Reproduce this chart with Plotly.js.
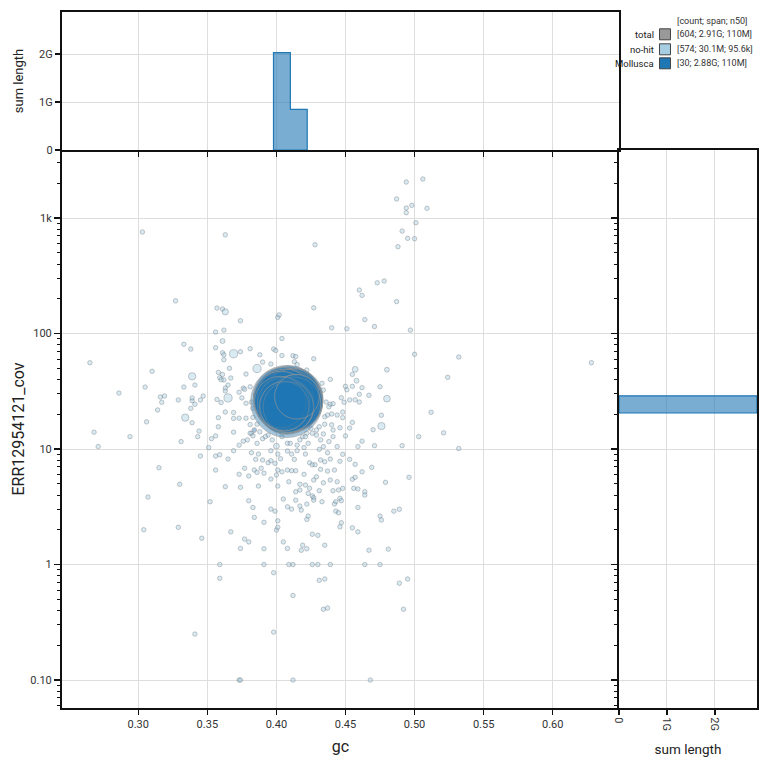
<!DOCTYPE html>
<html><head><meta charset="utf-8">
<script src="https://cdn.plot.ly/plotly-3.0.1.min.js"></script>
<style>html,body{margin:0;padding:0;background:#fff}#chart{width:770px;height:770px}</style>
</head><body><div id="chart"></div>
<script>
// ---------------- data ----------------
const nohitGc = [
0.303,0.363,0.428,0.327,0.357,0.361,0.363,0.374,0.401,0.402,0.427,
0.494,0.506,0.487,0.498,0.494,0.509,0.494,0.501,0.491,0.495,0.500,0.488,
0.473,0.478,0.460,0.462,0.487,0.464,0.471,0.497,0.451,0.440,
0.356,0.362,0.361,0.404,0.333,0.338,0.356,0.361,0.369,0.362,0.362,0.374,0.381,0.388,0.390,0.398,0.3995,
0.404,0.412,0.414,0.413,0.415,0.427,0.386,0.500,0.532,0.628,0.422,0.396,0.366,0.265,0.310,
0.305,0.339,0.333,0.341,0.358,0.361,0.359,0.362,0.367,0.378,0.363,0.365,0.365,0.357,0.360,0.363,0.358,
0.369,0.369,0.375,0.376,0.377,0.381,0.385,0.378,0.382,0.383,0.383,0.381,0.386,0.382,
0.347,0.345,0.339,0.338,0.341,0.339,0.329,0.316,0.319,0.317,0.314,0.334,0.339,0.306,0.286,0.268,0.271,0.294,
0.331,0.344,0.343,0.353,0.356,0.358,0.351,0.369,0.373,0.376,0.379,0.386,0.390,0.394,0.381,0.388,
0.360,0.373,0.378,0.363,0.373,
0.439,0.458,0.450,0.455,0.462,0.475,0.433,0.451,0.460,0.467,0.434,0.447,0.449,0.453,0.460,0.457,0.480,
0.436,0.439,0.441,0.438,0.435,0.440,0.444,0.448,0.448,0.476,0.455,0.476,0.470,0.453,0.446,0.440,0.435,
0.431,0.429,0.425,0.441,0.434,0.450,0.441,0.422,0.419,0.457,0.455,0.480,0.524,0.512,0.521,0.503,0.437,
0.392,0.397,0.400,0.404,0.408,0.410,0.415,0.417,0.421,0.423,0.426,0.429,0.432,0.434,0.438,0.444,0.462,0.471,0.491,0.383,
0.345,0.356,0.359,0.369,0.365,0.382,0.385,0.387,0.390,0.394,0.396,0.396,0.401,0.399,0.403,0.408,0.411,0.413,0.415,
0.420,0.421,0.424,0.426,0.428,0.431,0.432,0.435,0.437,0.439,0.446,0.448,0.453,0.457,0.459,0.469,
0.356,0.363,0.373,0.377,0.380,0.384,0.386,0.389,0.391,0.396,0.400,0.401,0.404,0.408,0.409,0.411,0.414,0.417,
0.420,0.421,0.424,0.427,0.429,0.432,0.434,0.437,0.439,0.442,0.444,0.445,0.448,0.455,0.457,0.462,0.479,0.496,
0.374,0.387,0.401,0.414,0.417,0.423,0.426,0.427,0.431,0.441,0.456,0.459,0.464,0.464,
0.352,0.380,0.383,0.396,0.399,0.405,0.408,0.411,0.414,0.417,0.422,0.418,0.427,0.433,0.443,0.446,0.447,0.442,
0.459,0.443,0.445,0.485,0.489,0.384,0.391,0.401,0.422,0.423,0.447,0.446,0.455,0.459,0.475,0.476,
0.346,0.367,0.377,0.400,0.401,0.426,0.430,
0.315,0.330,0.307,0.304,0.329,0.374,0.380,0.391,0.398,0.398,0.405,0.408,0.412,0.419,0.418,0.422,0.435,
0.431,0.435,0.434,0.437,0.467,0.481,0.532,
0.359,0.391,0.409,0.412,0.426,0.430,0.439,0.464,0.475,
0.359,0.489,0.495,0.492,0.341,
0.373,0.374,0.412,0.468
];
const nohitCov = [
757,716,587,192,166,163,154,129,138,145,167,
2050,2177,1462,1288,1221,1213,1112,910,771,667,662,565,
275,285,238,214,189,132,115,107,110,112,
103,107,86.1,90.5,80.6,73.4,75.4,68.2,66.8,65.5,59.3,69.6,73.9,65.5,56.6,73.4,71.3,
64.5,64.3,63.2,57.0,53.9,60.5,49.8,66.1,62.6,55.9,48.3,54.5,50.0,55.9,47.1,
34.4,42.6,34.4,35.8,46.1,44.2,41.4,39.6,41.2,44.6,33.7,35.8,27.7,26.9,25.3,20.9,18.7,
20.7,18.4,27.7,33.7,32.9,34.6,29.5,24.9,25.5,22.5,18.8,16.3,16.4,13.7,
28.8,26.6,26.2,22.5,24.4,27.7,26.6,28.2,28.8,25.4,21.8,18.7,16.9,17.2,30.5,14.0,10.5,12.8,
11.6,14.3,12.8,12.3,13.0,15.6,10.3,14.0,10.8,11.7,12.0,11.2,12.3,13.2,13.7,14.1,
39.8,18.5,18.5,31.8,31.0,
40.1,39.0,34.9,34.9,34.0,34.6,37.1,32.6,29.8,29.2,32.4,27.8,25.4,26.6,25.5,26.7,27.3,
25.5,24.4,24.7,23.2,19.0,20.1,19.7,20.9,18.7,19.6,17.0,15.8,14.7,15.2,15.3,16.2,16.4,
15.6,14.6,15.1,14.6,13.5,13.0,12.8,13.7,12.8,49.0,44.3,48.6,41.8,20.8,13.8,12.8,19.7,
12.8,12.0,10.6,12.8,11.2,11.2,10.8,12.0,12.8,11.2,13.7,13.2,12.0,10.5,11.6,10.5,11.7,10.7,10.7,13.0,
8.70,8.70,8.93,9.67,8.19,9.29,8.14,9.05,8.03,7.61,7.92,9.67,9.05,7.52,8.24,9.61,9.05,8.14,9.67,
10.3,9.05,7.61,7.31,7.31,9.94,8.03,7.76,9.29,8.19,7.83,9.00,8.14,7.37,10.5,6.94,
6.58,4.72,6.04,6.81,5.84,6.58,6.28,6.81,6.17,5.50,5.96,6.58,6.35,6.58,5.21,6.49,6.49,4.95,
6.04,4.88,4.57,5.39,5.75,6.67,5.10,6.45,5.39,6.58,5.21,4.42,4.57,5.47,5.69,6.35,5.15,5.69,
4.66,4.78,4.78,4.27,4.42,4.13,3.92,3.79,4.36,4.36,4.57,4.51,4.27,4.00,
3.50,3.57,3.12,3.02,2.90,3.69,3.16,3.02,3.61,3.21,3.34,2.96,3.61,3.50,3.50,3.74,3.57,3.34,
3.12,2.90,2.81,2.90,3.01,2.56,2.32,2.39,2.46,2.63,2.30,2.12,2.08,1.92,2.63,2.43,
1.69,1.92,1.66,1.99,2.10,1.83,1.79,
6.89,4.95,3.84,2.00,2.10,1.38,1.57,1.37,0.85,0.26,1.57,1.38,0.54,1.47,1.33,1.37,1.47,
0.73,0.75,0.41,0.42,1.33,1.36,10.1,
1,1,1,1,1,1,1,1,1,
0.76,0.69,0.75,0.41,0.25,
0.1,0.1,0.1,0.1
];
// contig lengths in kb
const nohitLenKb = [
45,45,45,45,45,45,120,45,45,45,45,
45,45,45,45,45,45,45,45,45,45,45,45,
45,45,45,45,45,45,45,45,45,45,
45,45,60,45,45,45,45,45,280,45,45,45,45,45,45,45,45,
45,45,45,45,45,45,280,45,45,45,45,45,45,45,45,
45,200,45,45,45,45,45,45,45,45,45,45,280,45,45,45,45,
45,45,45,45,45,45,45,45,45,45,45,45,45,45,
45,45,45,45,45,45,45,45,45,45,45,200,45,45,45,45,45,45,
45,45,45,45,45,45,45,45,45,45,45,45,45,45,45,45,
45,45,45,45,45,
45,60,45,45,45,45,45,45,45,45,45,45,45,45,45,45,150,
45,45,45,45,45,45,45,45,45,45,45,200,45,45,45,45,45,
45,45,45,45,45,45,45,45,45,100,45,60,45,45,45,45,45,
45,45,100,45,45,45,45,45,45,45,45,45,45,45,45,45,45,45,45,45,
45,45,45,45,45,45,45,45,45,45,45,45,45,45,45,45,45,45,45,
45,45,45,45,45,45,45,45,45,45,45,45,45,45,45,45,
45,45,45,45,45,45,45,45,45,45,45,45,45,45,45,45,45,45,
45,45,45,45,45,45,45,45,45,45,45,45,45,45,45,45,45,45,
45,45,45,45,45,45,45,45,45,45,45,45,45,45,
45,45,45,45,45,45,45,45,45,45,45,45,45,45,45,45,45,45,
45,45,45,45,45,45,45,45,45,45,45,45,45,45,45,45,
45,45,45,45,45,45,45,
45,45,45,45,45,45,45,45,45,45,45,45,45,45,45,45,45,
45,45,45,45,45,45,45,
45,45,45,45,45,45,45,45,45,
45,45,45,45,45,
45,45,45,45
];
const molluscaGc = [
0.4075,0.4086,0.4071,0.4093,0.4064,0.4078,0.4057,0.4096,0.4049,0.4089,
0.4071,0.4042,0.4095,0.4064,0.4035,0.4078,0.4053,0.4028,0.4086,0.4057,
0.4107,0.4114,0.4122,0.4111,0.4129,0.4118,0.4136,0.4125,0.4149,
0.384
];
const molluscaCov = [
25.8,26.6,27.7,28.5,25.5,24.5,27.1,26.0,28.2,25.0,
24.0,26.0,27.7,28.2,27.1,23.5,24.8,25.5,23.1,23.5,
27.1,26.0,27.7,25.0,26.6,28.2,25.5,24.5,28.4,
14.6
];
const molluscaLenMb = [
192,125,120,118,116,112,110,110,106,104,
100,98,94,90,88,78,74,70,66,62,
122,114,108,102,96,92,85,82,46,
0.05
];

const gcTickVals = [0.30,0.35,0.40,0.45,0.50,0.55,0.60];
const gcTickText = ['0.30','0.35','0.40','0.45','0.50','0.55','0.60'];
const covTickVals = [0.1,1,10,100,1000];
const covTickText = ['0.10','1','10','100','1k'];
const lenTickVals = [0,1e9,2e9];
const lenTickText = ['0','1G','2G'];

const legendTitle = '[count; span; n50]';
const legendNames = ['total','no-hit','Mollusca'];
const legendStats = ['[604; 2.91G; 110M]','[574; 30.1M; 95.6k]','[30; 2.88G; 110M]'];
const legendColors = ['#999999','#a6cee3','#1f77b4'];

// ---------------- helpers ----------------
const W = 770;
const px = v => v / W;            // x pixel -> paper
const py = v => 1 - v / W;        // y pixel -> paper
const GC_RANGE = [0.2448, 0.648];
const LOGCOV_RANGE = [-1.242, 3.589];
const LEN_MAX = 2.88e9;
const GC_BIN_START = 0.3979, GC_BIN_SIZE = 0.0122;
const LCOV_BIN_START = 1.312, LCOV_BIN_SIZE = 0.149;
const MIN_VISIBLE_SUM = 1e6;   // bins below this are zero-height at this scale

function markerSize(lenBp){ return 72 * Math.pow(lenBp / 192e6, 0.332); }

function binSums(vals, weights, start, size){
  const m = new Map();
  vals.forEach((v,i)=>{ const k = Math.floor((v-start)/size); m.set(k,(m.get(k)||0)+weights[i]); });
  return [...m.entries()].filter(e=>e[1]>=MIN_VISIBLE_SUM).sort((a,b)=>a[0]-b[0]);
}
function stepPoly(bins, start, size, toPos){
  const pos=[], val=[];
  let i=0;
  while(i<bins.length){
    let j=i;
    while(j+1<bins.length && bins[j+1][0]===bins[j][0]+1) j++;
    const e0 = start + bins[i][0]*size;
    pos.push(toPos(e0)); val.push(0);
    for(let k=i;k<=j;k++){
      const a = start+bins[k][0]*size, b = a+size;
      pos.push(toPos(a)); val.push(bins[k][1]);
      pos.push(toPos(b)); val.push(bins[k][1]);
    }
    pos.push(toPos(start+(bins[j][0]+1)*size)); val.push(0);
    pos.push(toPos(e0)); val.push(0);
    pos.push(null); val.push(null);
    i=j+1;
  }
  return {pos,val};
}

const molLenBp = molluscaLenMb.map(v=>v*1e6);
const order = molluscaLenMb.map((v,i)=>i).sort((a,b)=>molluscaLenMb[b]-molluscaLenMb[a]);

const gcBins = binSums(molluscaGc, molLenBp, GC_BIN_START, GC_BIN_SIZE);
const topPoly = stepPoly(gcBins, GC_BIN_START, GC_BIN_SIZE, e=>e);
const covBins = binSums(molluscaCov.map(v=>Math.log10(v)), molLenBp, LCOV_BIN_START, LCOV_BIN_SIZE);
const rightPoly = stepPoly(covBins, LCOV_BIN_START, LCOV_BIN_SIZE, e=>Math.pow(10,e));

const FONT = 'Roboto, "Open Sans", sans-serif';
const histFill = 'rgba(31,119,180,0.6)';

const traces = [
  { type:'scatter', mode:'markers', x:nohitGc, y:nohitCov, xaxis:'x', yaxis:'y',
    marker:{ size:nohitLenKb.map(v=>markerSize(v*1e3)), color:'rgba(166,206,227,0.6)',
             line:{color:'rgba(70,80,90,0.55)', width:0.8} }, hoverinfo:'skip' },
  { type:'scatter', mode:'markers', x:order.map(i=>molluscaGc[i]), y:order.map(i=>molluscaCov[i]),
    xaxis:'x', yaxis:'y',
    marker:{ size:order.map(i=>markerSize(molLenBp[i])), color:'rgba(31,119,180,0.6)',
             line:{color:'rgba(150,150,150,0.95)', width:1} }, hoverinfo:'skip' },
  { type:'scatter', mode:'lines', x:topPoly.pos, y:topPoly.val, xaxis:'x2', yaxis:'y2',
    fill:'toself', fillcolor:histFill, line:{color:'#1f77b4', width:1.2}, hoverinfo:'skip' },
  { type:'scatter', mode:'lines', x:rightPoly.val, y:rightPoly.pos, xaxis:'x3', yaxis:'y3',
    fill:'toself', fillcolor:histFill, line:{color:'#1f77b4', width:1.2}, hoverinfo:'skip' }
];

const minorCov = [];
for(let d=-2; d<=3; d++) for(let m=2; m<=9; m++) minorCov.push(m*Math.pow(10,d));

const axCommon = { showline:true, mirror:true, linecolor:'#111', linewidth:2, zeroline:false,
  gridcolor:'#dedede', gridwidth:1, tickfont:{size:11, color:'#333', family:FONT},
  ticks:'outside', tickcolor:'#111', tickwidth:1.5 };

const mainXDom = [px(62), px(619)];
const mainYDom = [py(708), py(150)];

const layout = {
  width:770, height:770, margin:{l:0,r:0,t:0,b:0}, showlegend:false,
  paper_bgcolor:'#fff', plot_bgcolor:'#fff', font:{family:FONT, color:'#222'},
  xaxis: Object.assign({}, axCommon, { domain:mainXDom, anchor:'y', range:GC_RANGE, mirror:false,
    tickmode:'array', tickvals:gcTickVals, ticktext:gcTickText, ticklen:5,
    title:{text:'gc', font:{size:16, color:'#222'}, standoff:11} }),
  yaxis: Object.assign({}, axCommon, { domain:mainYDom, anchor:'x', type:'log', range:LOGCOV_RANGE, mirror:false,
    tickmode:'array', tickvals:covTickVals, ticktext:covTickText, ticklen:6,
    minor:{tickmode:'array', tickvals:minorCov, ticks:'outside', ticklen:3, tickcolor:'#111', tickwidth:1, showgrid:false},
    title:{text:'ERR12954121_cov', font:{size:16, color:'#222'}, standoff:2} }),
  xaxis2: Object.assign({}, axCommon, { domain:mainXDom, anchor:'y2', range:GC_RANGE,
    tickmode:'array', tickvals:gcTickVals, showticklabels:false, ticklen:5 }),
  yaxis2: Object.assign({}, axCommon, { domain:[py(150), py(12)], anchor:'x2', range:[0, LEN_MAX],
    tickmode:'array', tickvals:lenTickVals, ticktext:lenTickText, ticklen:5,
    title:{text:'sum length', font:{size:13, color:'#222'}, standoff:13} }),
  xaxis3: Object.assign({}, axCommon, { domain:[px(619), px(757)], anchor:'y3', range:[0, LEN_MAX],
    tickmode:'array', tickvals:lenTickVals, ticktext:lenTickText, tickangle:90, ticklen:5,
    title:{text:'sum length', font:{size:13.5, color:'#222'}, standoff:15} }),
  yaxis3: Object.assign({}, axCommon, { domain:mainYDom, anchor:'x3', type:'log', range:LOGCOV_RANGE,
    tickmode:'array', tickvals:covTickVals, showticklabels:false, ticklen:6,
    minor:{tickmode:'array', tickvals:minorCov, ticks:'outside', ticklen:3, tickcolor:'#111', tickwidth:1, showgrid:false} }),
  annotations:[], shapes:[]
};

// legend (drawn as annotations + boxes)
const LEG = { titleY:20.7, rowY:[34.3,49.3,63.3], labelRight:656, boxX0:659.5, boxSize:11, statX:675 };
layout.annotations.push({ text:legendTitle, x:px(LEG.statX), y:py(LEG.titleY), xref:'paper', yref:'paper',
  xanchor:'left', yanchor:'middle', showarrow:false, font:{size:9, color:'#333', family:FONT} });
legendNames.forEach((name,i)=>{
  const yy = LEG.rowY[i];
  layout.annotations.push({ text:name, x:px(LEG.labelRight), y:py(yy), xref:'paper', yref:'paper',
    xanchor:'right', yanchor:'middle', showarrow:false, font:{size:9.5, color:'#222', family:FONT} });
  layout.annotations.push({ text:legendStats[i], x:px(LEG.statX), y:py(yy), xref:'paper', yref:'paper',
    xanchor:'left', yanchor:'middle', showarrow:false, font:{size:9, color:'#333', family:FONT} });
  layout.shapes.push({ type:'rect', xref:'paper', yref:'paper',
    x0:px(LEG.boxX0), x1:px(LEG.boxX0+LEG.boxSize), y0:py(yy+LEG.boxSize/2), y1:py(yy-LEG.boxSize/2),
    fillcolor:legendColors[i], line:{color:'#444', width:1} });
});

Plotly.newPlot('chart', traces, layout, {staticPlot:true, displayModeBar:false});
</script></body></html>
